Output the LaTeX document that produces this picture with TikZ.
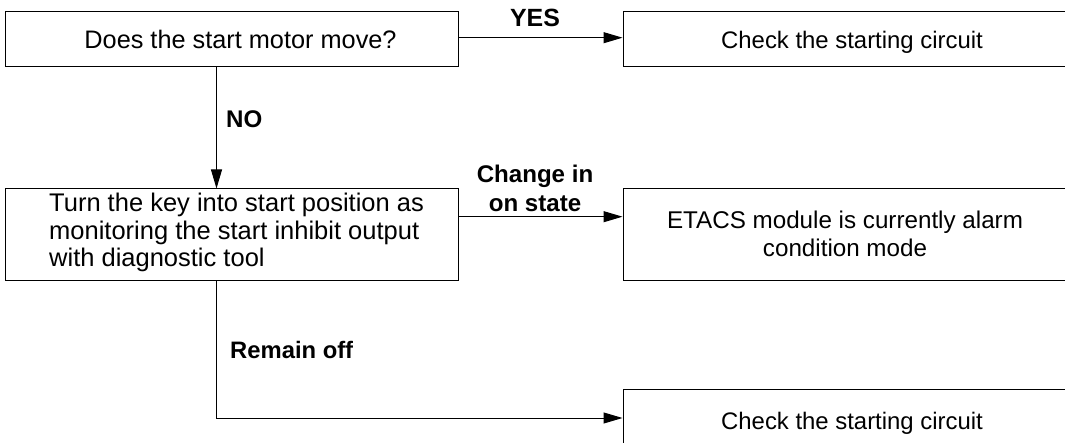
\documentclass[tikz,border=0pt]{standalone}
\usepackage{fontspec}
\setmainfont{Liberation Sans}
\usetikzlibrary{arrows.meta}
\begin{document}
\begin{tikzpicture}[x=1pt,y=-1pt,
  box/.style={draw, line width=1pt, rectangle, inner sep=0pt},
  arr/.style={line width=1pt, -{Triangle[length=19pt,width=11pt]}},
  txt/.style={font=\fontsize{23.9}{27.8}\selectfont, inner sep=0pt},
  lbl/.style={font=\fontsize{24.1}{29}\selectfont\bfseries, inner sep=0pt}]
\useasboundingbox (0,0) rectangle (1065,443);
\clip (0,0) rectangle (1065,443);
% boxes
\node[box, minimum width=453pt, minimum height=55pt] (b1) at (231.5,39.5) {};
\node[box, minimum width=455pt, minimum height=55pt] (b2) at (850.5,39.5) {};
\node[box, minimum width=453pt, minimum height=92pt] (b3) at (231.5,235) {};
\node[box, minimum width=455pt, minimum height=92pt] (b4) at (850.5,235) {};
\node[box, minimum width=455pt, minimum height=58pt] (b5) at (850.5,418) {};
% texts
\node[txt, anchor=base, font=\fontsize{25.3}{27.8}\selectfont] (t1) at (240.5,48.5) {Does the start motor move?};
\node[txt, anchor=base] (t2) at (852,48.8) {Check the starting circuit};
\node[txt, anchor=west, align=left, font=\fontsize{25.5}{27.8}\selectfont] (t3) at (49,232.5) {Turn the key into start position as\\monitoring the start inhibit output\\with diagnostic tool};
\node[txt, align=center, font=\fontsize{24.2}{28.4}\selectfont] (t4) at (845,234) {ETACS module is currently alarm\\condition mode};
\node[txt, anchor=base] (t5) at (852,429) {Check the starting circuit};
% labels
\node[lbl, anchor=base, font=\fontsize{24.9}{29}\selectfont\bfseries] (lyes) at (535,26.7) {YES};
\node[lbl, anchor=base west] (lno) at (226,127.7) {NO};
\node[lbl, align=center] (lch) at (535,188) {Change in\\on state};
\node[lbl, anchor=base west, font=\fontsize{23.8}{29}\selectfont\bfseries] (lrem) at (230,358.3) {Remain off};
% helper coordinates
\coordinate (yyes) at (0,37.7);
\coordinate (ych) at (0,216.7);
\coordinate (xv) at (216.5,0);
% connectors
\draw[arr] (b1.east |- yyes) -- (b2.west |- yyes);
\draw[arr] (b1.south -| xv) -- (b3.north -| xv);
\draw[arr] (b3.east |- ych) -- (b4.west |- ych);
\draw[arr] (b3.south -| xv) |- (b5.west);
\end{tikzpicture}
\end{document}
